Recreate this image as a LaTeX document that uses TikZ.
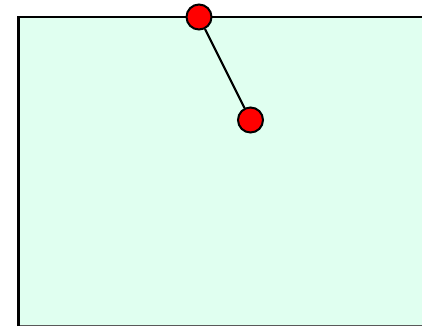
\documentclass[tikz,border=0pt]{standalone}
\usepackage{tikz}
\definecolor{mint}{RGB}{224,255,240}
\tikzset{joint/.style={circle,draw=black,line width=2pt,fill=red,inner sep=0pt,minimum size=25pt}}

\begin{document}
\begin{tikzpicture}[x=1pt,y=-1pt]
\useasboundingbox (0,0) rectangle (422,326);
\fill[mint] (18.5,17) rectangle (422,325);
\draw[gray!70!black,line width=0.8pt] (18.5,325) -- (422,325);
\draw[line width=2.2pt] (18.5,326) -- (18.5,17) -- (422,17);
\node[joint] (pivot) at (199,17) {};
\node[joint] (bob) at (250.5,120) {};
\draw[line width=2.2pt] (pivot) -- (bob);
\end{tikzpicture}
\end{document}
